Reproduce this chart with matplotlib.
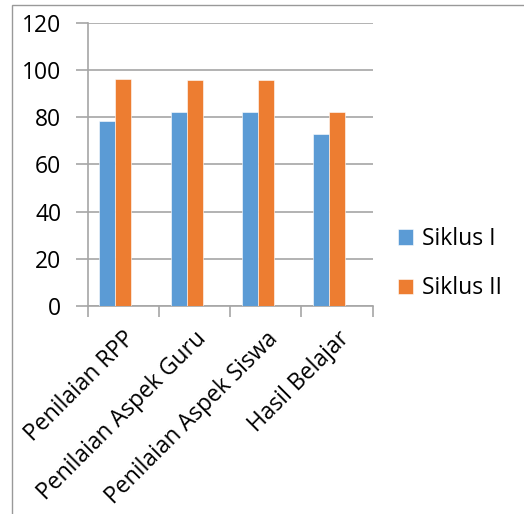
import matplotlib
matplotlib.use('Agg')
import matplotlib.pyplot as plt
from matplotlib.patches import Rectangle
import numpy as np

categories = ['Penilaian RPP', 'Penilaian Aspek Guru', 'Penilaian Aspek Siswa', 'Hasil Belajar']
siklus_1 = [78.3, 82.1, 82.1, 72.9]
siklus_2 = [96.2, 95.9, 95.9, 82.1]
series_names = ['Siklus I', 'Siklus II']
yticks = [0, 20, 40, 60, 80, 100, 120]

plt.rcParams['font.family'] = ['Open Sans', 'DejaVu Sans']
grey = '#A6A6A6'
fs = 16.5

fig = plt.figure(figsize=(5.24, 5.14), dpi=100)
ax = fig.add_axes([0.1674, 0.4047, 0.5439, 0.5506])

x = np.arange(len(categories))
w = 0.225
ax.bar(x - 0.225, siklus_1, w, color='#5B9BD5', edgecolor='white', linewidth=0.4,
       label=series_names[0], zorder=3)
ax.bar(x, siklus_2, w, color='#ED7D31', edgecolor='white', linewidth=0.4,
       label=series_names[1], zorder=3)

ax.set_xlim(-0.5, len(categories) - 0.5)
ax.set_ylim(0, 120)
ax.set_yticks(yticks)
ax.yaxis.grid(True, color=grey, linewidth=1.2, zorder=0)
ax.tick_params(axis='y', length=9, color=grey, width=1.2, labelsize=fs, pad=10)

# category boundaries carry the tick marks, labels sit at the centres
ax.set_xticks(np.arange(len(categories) + 1) - 0.5)
ax.set_xticklabels([])
ax.set_xticks(x, minor=True)
ax.set_xticklabels(categories, minor=True, rotation=45, ha='right',
                   rotation_mode='anchor', fontsize=fs)
ax.tick_params(axis='x', which='major', length=8, color=grey, width=1.2)
ax.tick_params(axis='x', which='minor', length=0, pad=15)

for s in ['top', 'right']:
    ax.spines[s].set_visible(False)
for s in ['left', 'bottom']:
    ax.spines[s].set_color(grey)
    ax.spines[s].set_linewidth(1.2)

fig.legend(loc='center left', bbox_to_anchor=(0.72, 0.487), frameon=False,
           fontsize=fs, handlelength=0.65, handleheight=0.65,
           handletextpad=0.4, labelspacing=1.1)

# outer chart frame, cut off at right and bottom
fig.patches.append(Rectangle((12 / 524, -0.1), 1.2, 1 - 5.5 / 514 + 0.1,
                             transform=fig.transFigure, fill=False,
                             edgecolor='#999999', linewidth=1.0))

fig.savefig('out.png', dpi=100)
